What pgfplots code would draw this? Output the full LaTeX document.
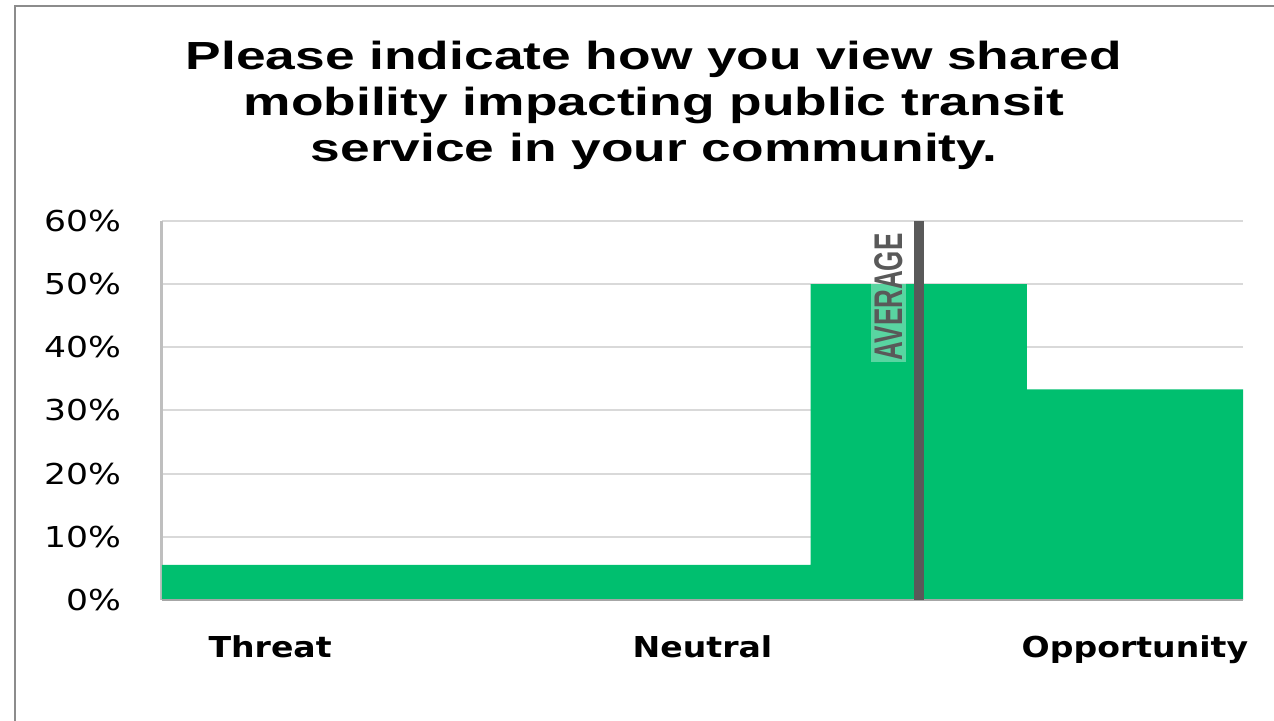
\documentclass[border=0pt]{standalone}
\usepackage{fontspec}
\setmainfont{DejaVu Sans}
\newfontfamily\titlefont{Liberation Sans}
\usepackage{pgfplots}
\pgfplotsset{compat=1.18}
\definecolor{bargreen}{HTML}{00BF6F}
\definecolor{avggray}{HTML}{595959}
\definecolor{gridgray}{HTML}{D9D9D9}
\definecolor{framegray}{HTML}{8C8C8C}
\begin{document}
\begin{tikzpicture}
\useasboundingbox (0,0) rectangle (637pt,360.5pt);
\draw[color=framegray, line width=1.2pt] (7.5pt,0) -- (7.5pt,357.5pt) -- (637pt,357.5pt);
\node[anchor=north, align=center, xscale=1.36, inner sep=0pt,
      font=\titlefont\bfseries\fontsize{19.6}{23}\selectfont]
  at (327pt,340pt) {Please indicate how you view shared\\mobility impacting public transit\\service in your community.};
\begin{axis}[
  scale only axis, width=540.5pt, height=189.5pt,
  at={(81pt,60.5pt)}, anchor=south west,
  xmin=0.5, xmax=5.5, ymin=0, ymax=60,
  axis x line*=bottom, axis y line*=left,
  x axis line style={color=gray!70, line width=1pt},
  y axis line style={color=gray!50, line width=1.5pt},
  ytick={0,10,20,30,40,50,60},
  yticklabels={0\%,10\%,20\%,30\%,40\%,50\%,60\%},
  xtick={1,3,5},
  xticklabels={Threat,Neutral,Opportunity},
  major tick length=0pt,
  ymajorgrids, grid style={color=gridgray, line width=1pt},
  yticklabel style={inner sep=0pt, anchor=east, xshift=-20pt,
    font=\fontsize{14.4}{16}\selectfont, xscale=1.2},
  xticklabel style={inner sep=0pt, anchor=north, yshift=-17.5pt,
    font=\bfseries\fontsize{14.4}{16}\selectfont, xscale=1.15},
  clip=false,
]
\addplot[ybar, bar width=1, bar shift=0pt, fill=bargreen, draw=none]
  coordinates {(1,5.56) (2,5.56) (3,5.56) (4,50) (5,33.33)};
\draw[color=gray!70, line width=1pt] (axis cs:0.5,0) -- (axis cs:5.5,0);
\addplot[color=avggray, line width=5pt] coordinates {(4,0) (4,60)};
\node[rotate=90, text=avggray, fill=white, fill opacity=0.35, text opacity=1,
      inner sep=1.5pt, xscale=0.65, font=\titlefont\bfseries\fontsize{20}{22}\selectfont]
  at (axis cs:3.86,48) {AVERAGE};
\end{axis}
\end{tikzpicture}
\end{document}
